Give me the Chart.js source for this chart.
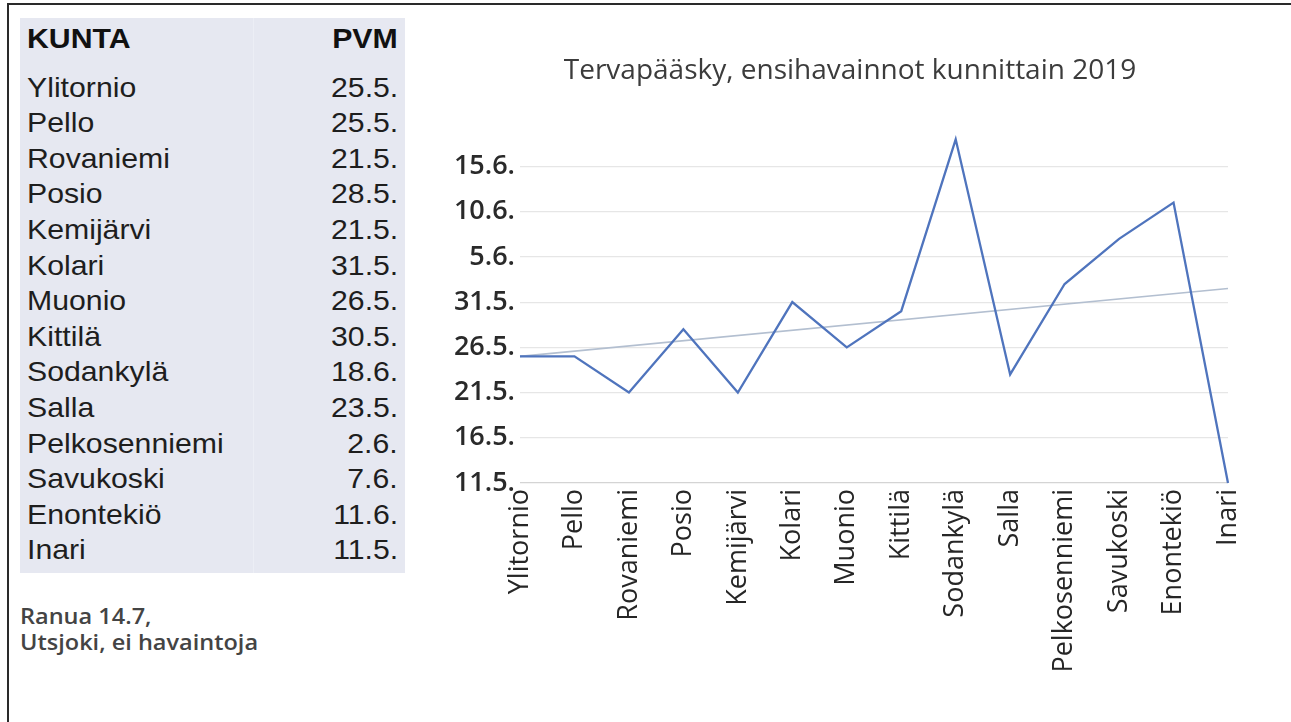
<!DOCTYPE html>
<html>
<head>
<meta charset="utf-8">
<script src="https://cdn.jsdelivr.net/npm/chart.js@4/dist/chart.umd.min.js"></script>
<style>
  html, body { margin: 0; padding: 0; background: #ffffff; }
  #wrap { position: relative; width: 1291px; height: 722px; overflow: hidden; background: #fff; }
  #frameTop { position: absolute; left: 7px; top: 3px; width: 1284px; height: 2px; background: #2a2a2a; }
  #frameLeft { position: absolute; left: 7px; top: 3px; width: 2px; height: 719px; background: #2a2a2a; }
  #tbl { position: absolute; left: 20px; top: 18px; width: 385px; height: 555px; background: #e6e8f1; }
  #tblLine { position: absolute; left: 253px; top: 18px; width: 1px; height: 555px; background: #eceef5; }
  .row { position: absolute; left: 27px; width: 371px; height: 35.6px; line-height: 35.6px;
         font-family: "Liberation Sans", Arial, sans-serif; font-size: 28px; color: #1e1e1e; }
  .row .k { position: absolute; left: 0; top: 0; transform: scaleX(1.08); transform-origin: left center; white-space: nowrap; }
  .row .v { position: absolute; right: 0; top: 0; transform: scaleX(1.08); transform-origin: right center; white-space: nowrap; }
  .row.head { font-weight: bold; color: #111; }
  .note { position: absolute; left: 20px; font-family: "Open Sans", sans-serif; font-size: 21px; font-weight: 600;
          color: #444444; white-space: nowrap; transform: scaleX(1.12); transform-origin: left center; }
  #cv { position: absolute; left: 0; top: 0; }
</style>
</head>
<body>
<div id="wrap">
  <div id="tbl"></div>
  <div id="tblLine"></div>
  <div id="rows"></div>
  <div id="notes"></div>
  <canvas id="cv" width="1291" height="722"></canvas>
  <div id="frameTop"></div>
  <div id="frameLeft"></div>
</div>
<script>
// ---- data ----
const municipalities = ["Ylitornio","Pello","Rovaniemi","Posio","Kemijärvi","Kolari","Muonio","Kittilä","Sodankylä","Salla","Pelkosenniemi","Savukoski","Enontekiö","Inari"];
const dateLabels = ["25.5.","25.5.","21.5.","28.5.","21.5.","31.5.","26.5.","30.5.","18.6.","23.5.","2.6.","7.6.","11.6.","11.5."];
// days after 11.5. (axis origin)
const daysAfter11May = [14, 14, 10, 17, 10, 20, 15, 19, 38, 12, 22, 27, 31, 0];
// linear trendline, read at first and last category
const trendEnds = [14.0, 21.5];
const yTickValues = [0, 5, 10, 15, 20, 25, 30, 35];
const yTickLabels = ["11.5.","16.5.","21.5.","26.5.","31.5.","5.6.","10.6.","15.6."];
const tableHeader = ["KUNTA", "PVM"];
const notes = ["Ranua 14.7,", "Utsjoki, ei havaintoja"];
const chartTitle = "Tervapääsky, ensihavainnot kunnittain 2019";

// ---- table ----
const rowsEl = document.getElementById('rows');
function addRow(k, v, top, cls) {
  const d = document.createElement('div');
  d.className = 'row' + (cls ? ' ' + cls : '');
  d.style.top = top + 'px';
  const a = document.createElement('span'); a.className = 'k'; a.textContent = k;
  const b = document.createElement('span'); b.className = 'v'; b.textContent = v;
  d.appendChild(a); d.appendChild(b);
  rowsEl.appendChild(d);
}
addRow(tableHeader[0], tableHeader[1], 20.5, 'head');
municipalities.forEach((m, i) => addRow(m, dateLabels[i], 69.5 + i * 35.6));

const notesEl = document.getElementById('notes');
notes.forEach((t, i) => {
  const d = document.createElement('div');
  d.className = 'note';
  d.style.top = (602 + i * 26) + 'px';
  d.textContent = t;
  notesEl.appendChild(d);
});

// ---- chart ----
const trendData = municipalities.map((_, i) => i === 0 ? trendEnds[0] : (i === municipalities.length - 1 ? trendEnds[1] : null));

// let the y tick labels extend to the left of the (narrow) y-axis box
const unclipYLabels = {
  id: 'unclipYLabels',
  beforeDraw(chart) {
    const y = chart.scales.y;
    if (y) y._computeLabelArea = () => undefined;
  }
};

new Chart(document.getElementById('cv'), {
  type: 'line',
  data: {
    labels: municipalities,
    datasets: [
      {
        label: 'Ensihavainto',
        data: daysAfter11May,
        borderColor: '#4f74bd',
        borderWidth: 2.3,
        pointRadius: 0,
        tension: 0,
        clip: false
      },
      {
        label: 'Trendi',
        data: trendData,
        spanGaps: true,
        borderColor: '#b3bfd0',
        borderWidth: 1.6,
        pointRadius: 0,
        tension: 0,
        clip: false
      }
    ]
  },
  plugins: [unclipYLabels],
  options: {
    responsive: false,
    animation: false,
    devicePixelRatio: 1,
    layout: { padding: { left: 472, right: 63, top: 0, bottom: 0 } },
    plugins: {
      legend: { display: false },
      tooltip: { enabled: false },
      title: {
        display: true,
        text: chartTitle,
        color: '#3c3c3c',
        font: { family: 'Open Sans', size: 28, weight: 'normal', lineHeight: 1.2 },
        padding: { top: 54, bottom: 49 }
      }
    },
    scales: {
      x: {
        offset: false,
        grid: { display: false, drawTicks: false },
        border: { display: false },
        ticks: {
          autoSkip: false,
          maxRotation: 90,
          minRotation: 90,
          padding: 6,
          color: '#262626',
          font: { family: 'Open Sans', size: 27 }
        },
        afterFit: (s) => { s.height = 239; }
      },
      y: {
        min: 0,
        max: 38.3,
        afterBuildTicks: (s) => { s.ticks = yTickValues.map(v => ({ value: v })); },
        grid: {
          color: (ctx) => ctx.tick && ctx.tick.value === 0 ? '#d4d4d4' : '#e6e6e6',
          lineWidth: 1.2,
          drawTicks: false
        },
        border: { display: false },
        ticks: {
          padding: 5,
          color: '#2a2a2a',
          font: { family: 'Open Sans', size: 27, weight: '600' },
          callback: (v) => { const i = yTickValues.indexOf(v); return i >= 0 ? yTickLabels[i] : ''; }
        },
        afterFit: (s) => { s.width = 48; }
      }
    }
  }
});
</script>
</body>
</html>
